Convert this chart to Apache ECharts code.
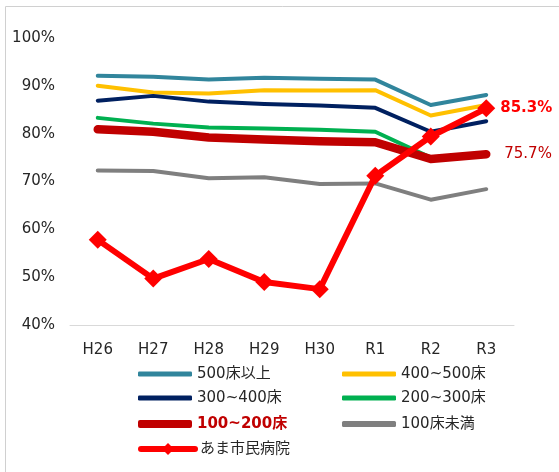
<!DOCTYPE html>
<html><head><meta charset="utf-8">
<script src="https://cdn.jsdelivr.net/npm/echarts@6/dist/echarts.min.js"></script>
<style>html,body{margin:0;padding:0;background:#fff}#c{width:559px;height:472px}</style>
</head><body><div id="c"></div>
<script>
const categories = ['H26','H27','H28','H29','H30','R1','R2','R3'];
const yTicks = [40, 50, 60, 70, 80, 90, 100];
const s500 = [92.1, 91.9, 91.3, 91.7, 91.5, 91.3, 86.0, 88.1];
const s400 = [90.0, 88.6, 88.4, 89.1, 89.0, 89.1, 83.8, 86.0];
const s300 = [86.9, 87.9, 86.7, 86.2, 85.9, 85.4, 80.4, 82.6];
const s200 = [83.3, 82.1, 81.3, 81.1, 80.8, 80.4, 75.0, 75.6];
const s100 = [80.9, 80.4, 79.2, 78.8, 78.4, 78.2, 74.7, 75.7];
const sUnder = [72.3, 72.2, 70.7, 70.9, 69.5, 69.6, 66.2, 68.4];
const sAma = [57.8, 49.7, 53.8, 49.0, 47.5, 71.2, 79.4, 85.3];
const names = ['500床以上','400~500床','300~400床','200~300床','100~200床','100床未満','あま市民病院'];

const FONT = '"DejaVu Sans", "Noto Sans CJK JP", sans-serif';
const chart = echarts.init(document.getElementById('c'));

function endLbl(color, bold, dist) {
  return {
    show: true, distance: dist,
    formatter: p => Number(p.value).toFixed(1) + '%',
    color: color, fontSize: 15, fontWeight: bold ? 'bold' : 'normal', fontFamily: FONT
  };
}
function line(name, data, color, width, extra) {
  return Object.assign({
    name: name, type: 'line', data: data, symbol: 'none', smooth: false,
    lineStyle: { color: color, width: width, cap: 'round', join: 'round' },
    itemStyle: { color: color }, emphasis: { disabled: true }, animation: false
  }, extra || {});
}

const legendPos = [
  [138, 374, 5], [342, 374, 5],
  [138, 398, 5], [342, 398, 5],
  [138, 424, 8], [342, 424, 6],
  [138, 449, 6]
];
const legends = names.map((n, i) => {
  const base = {
    data: [i === 4 ? { name: n, textStyle: { color: '#C00000', fontWeight: 'bold' } } : n],
    left: legendPos[i][0], top: legendPos[i][1] - 9,
    itemWidth: 54, itemGap: 0,
    textStyle: { fontSize: 15, fontFamily: FONT, color: '#262626', lineHeight: 18 },
    selectedMode: false, padding: 0
  };
  if (i < 6) {
    base.icon = 'roundRect';
    base.itemHeight = legendPos[i][2];
  } else {
    base.itemHeight = 15;
    base.lineStyle = { width: 6, cap: 'round' };
  }
  return base;
});

chart.setOption({
  animation: false,
  graphic: [{ type: 'rect', shape: { x: 5.5, y: 6.5, width: 600, height: 500 }, style: { fill: null, stroke: '#D0D0D0', lineWidth: 1 }, silent: true }],
  grid: { left: 70, right: 45, top: 38, bottom: 147, containLabel: false },
  xAxis: {
    type: 'category', data: categories, boundaryGap: true,
    axisLine: { lineStyle: { color: '#D9D9D9', width: 1 } },
    axisTick: { show: false },
    axisLabel: { color: '#262626', fontSize: 15, fontFamily: FONT, margin: 18 }
  },
  yAxis: {
    type: 'value', min: yTicks[0], max: yTicks[yTicks.length - 1], interval: 10,
    axisLine: { show: false }, axisTick: { show: false }, splitLine: { show: false },
    axisLabel: { color: '#262626', fontSize: 15, fontFamily: FONT, margin: 15, formatter: '{value}%' }
  },
  legend: legends,
  series: [
    line(names[0], s500, '#31859C', 4),
    line(names[1], s400, '#FFC000', 4),
    line(names[2], s300, '#002060', 4),
    line(names[3], s200, '#00B050', 4),
    line(names[4], s100, '#C00000', 8.5, { endLabel: endLbl('#C00000', false, 18) }),
    line(names[5], sUnder, '#7F7F7F', 4),
    line(names[6], sAma, '#FF0000', 6, {
      symbol: 'diamond', symbolSize: 18, showSymbol: true,
      endLabel: endLbl('#FF0000', true, 14)
    })
  ]
});
</script></body></html>
